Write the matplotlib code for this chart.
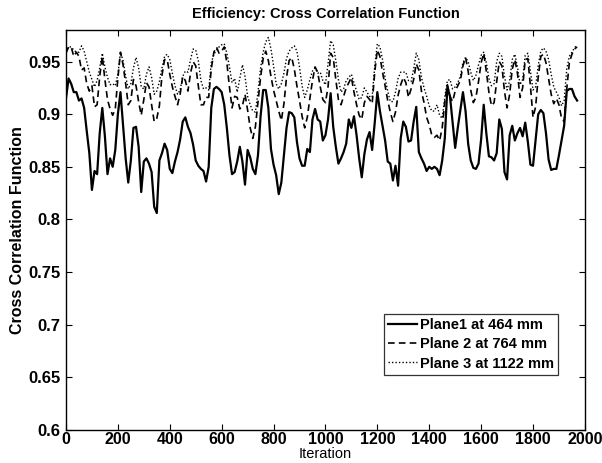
import numpy as np
import matplotlib
matplotlib.use("Agg")
import matplotlib.pyplot as plt

iterations = list(range(0, 1971, 10))

plane1 = [
    0.915, 0.934, 0.929, 0.921, 0.921, 0.913, 0.915, 0.906, 0.884, 0.863,
    0.828, 0.846, 0.843, 0.882, 0.906, 0.879, 0.843, 0.858, 0.850, 0.866,
    0.900, 0.921, 0.890, 0.858, 0.835, 0.856, 0.887, 0.888, 0.869, 0.826,
    0.855, 0.858, 0.853, 0.845, 0.812, 0.806, 0.856, 0.863, 0.872, 0.866,
    0.848, 0.844, 0.855, 0.864, 0.876, 0.893, 0.897, 0.888, 0.882, 0.871,
    0.856, 0.851, 0.848, 0.846, 0.836, 0.850, 0.906, 0.924, 0.926, 0.924,
    0.921, 0.909, 0.887, 0.861, 0.843, 0.845, 0.855, 0.869, 0.855, 0.833,
    0.866, 0.859, 0.848, 0.843, 0.861, 0.898, 0.923, 0.923, 0.906, 0.867,
    0.852, 0.842, 0.824, 0.835, 0.861, 0.887, 0.902, 0.901, 0.897, 0.874,
    0.858, 0.851, 0.851, 0.867, 0.864, 0.895, 0.905, 0.895, 0.893, 0.875,
    0.880, 0.895, 0.920, 0.888, 0.869, 0.853, 0.858, 0.864, 0.872, 0.895,
    0.887, 0.898, 0.880, 0.858, 0.840, 0.862, 0.876, 0.883, 0.866, 0.892,
    0.921, 0.903, 0.889, 0.875, 0.855, 0.853, 0.837, 0.851, 0.832, 0.877,
    0.893, 0.888, 0.874, 0.875, 0.893, 0.907, 0.864, 0.858, 0.853, 0.846,
    0.850, 0.848, 0.850, 0.848, 0.842, 0.856, 0.877, 0.926, 0.917, 0.892,
    0.868, 0.887, 0.904, 0.921, 0.903, 0.872, 0.856, 0.849, 0.848, 0.853,
    0.876, 0.909, 0.882, 0.860, 0.859, 0.856, 0.863, 0.895, 0.886, 0.845,
    0.838, 0.880, 0.889, 0.875, 0.882, 0.887, 0.879, 0.892, 0.874, 0.852,
    0.851, 0.875, 0.900, 0.904, 0.901, 0.882, 0.857, 0.847, 0.848, 0.848,
    0.861, 0.875, 0.889, 0.922, 0.924, 0.924, 0.917, 0.913,
]

plane2 = [
    0.958, 0.964, 0.964, 0.955, 0.959, 0.955, 0.942, 0.944, 0.929, 0.922,
    0.927, 0.907, 0.909, 0.936, 0.955, 0.933, 0.914, 0.905, 0.899, 0.905,
    0.934, 0.959, 0.947, 0.929, 0.909, 0.913, 0.933, 0.927, 0.912, 0.899,
    0.914, 0.930, 0.926, 0.909, 0.893, 0.896, 0.908, 0.937, 0.952, 0.952,
    0.938, 0.926, 0.917, 0.909, 0.919, 0.936, 0.932, 0.922, 0.939, 0.950,
    0.946, 0.927, 0.909, 0.909, 0.916, 0.916, 0.943, 0.959, 0.964, 0.958,
    0.960, 0.964, 0.949, 0.926, 0.906, 0.917, 0.916, 0.905, 0.908, 0.919,
    0.904, 0.887, 0.877, 0.888, 0.912, 0.935, 0.953, 0.960, 0.951, 0.936,
    0.923, 0.913, 0.903, 0.894, 0.910, 0.935, 0.951, 0.954, 0.943, 0.927,
    0.913, 0.898, 0.887, 0.897, 0.915, 0.932, 0.945, 0.940, 0.926, 0.914,
    0.911, 0.926, 0.958, 0.954, 0.933, 0.914, 0.909, 0.917, 0.925, 0.930,
    0.935, 0.921, 0.909, 0.899, 0.895, 0.911, 0.917, 0.914, 0.910, 0.940,
    0.961, 0.955, 0.940, 0.927, 0.913, 0.902, 0.893, 0.902, 0.918, 0.928,
    0.935, 0.930, 0.916, 0.924, 0.933, 0.948, 0.942, 0.922, 0.911, 0.897,
    0.890, 0.880, 0.878, 0.880, 0.875, 0.887, 0.912, 0.928, 0.917, 0.912,
    0.922, 0.927, 0.932, 0.946, 0.954, 0.941, 0.923, 0.911, 0.916, 0.931,
    0.949, 0.958, 0.941, 0.921, 0.908, 0.911, 0.931, 0.950, 0.946, 0.922,
    0.906, 0.919, 0.943, 0.952, 0.939, 0.916, 0.925, 0.952, 0.953, 0.927,
    0.897, 0.907, 0.935, 0.955, 0.957, 0.949, 0.934, 0.919, 0.910, 0.915,
    0.909, 0.896, 0.893, 0.924, 0.949, 0.957, 0.962, 0.964,
]

plane3 = [
    0.959, 0.964, 0.964, 0.961, 0.959, 0.959, 0.965, 0.960, 0.950, 0.940,
    0.933, 0.926, 0.932, 0.944, 0.958, 0.945, 0.935, 0.928, 0.929, 0.927,
    0.938, 0.959, 0.951, 0.936, 0.924, 0.929, 0.944, 0.954, 0.944, 0.926,
    0.924, 0.938, 0.945, 0.935, 0.919, 0.922, 0.931, 0.944, 0.955, 0.957,
    0.952, 0.939, 0.927, 0.919, 0.923, 0.936, 0.941, 0.940, 0.952, 0.962,
    0.961, 0.951, 0.932, 0.924, 0.925, 0.923, 0.949, 0.957, 0.961, 0.964,
    0.966, 0.967, 0.958, 0.945, 0.930, 0.934, 0.921, 0.934, 0.947, 0.936,
    0.917, 0.909, 0.903, 0.902, 0.921, 0.944, 0.959, 0.969, 0.973, 0.962,
    0.946, 0.929, 0.924, 0.929, 0.939, 0.953, 0.960, 0.963, 0.965, 0.960,
    0.945, 0.927, 0.916, 0.923, 0.933, 0.941, 0.944, 0.939, 0.940, 0.932,
    0.928, 0.948, 0.970, 0.966, 0.951, 0.933, 0.921, 0.924, 0.932, 0.935,
    0.938, 0.930, 0.922, 0.914, 0.916, 0.925, 0.921, 0.917, 0.916, 0.946,
    0.967, 0.964, 0.952, 0.934, 0.922, 0.912, 0.912, 0.921, 0.934, 0.940,
    0.940, 0.940, 0.932, 0.931, 0.943, 0.958, 0.952, 0.935, 0.925, 0.917,
    0.908, 0.903, 0.903, 0.909, 0.899, 0.896, 0.916, 0.932, 0.933, 0.924,
    0.926, 0.930, 0.936, 0.949, 0.954, 0.950, 0.940, 0.932, 0.937, 0.947,
    0.956, 0.959, 0.949, 0.934, 0.927, 0.929, 0.950, 0.958, 0.955, 0.936,
    0.923, 0.932, 0.952, 0.957, 0.945, 0.928, 0.933, 0.956, 0.958, 0.941,
    0.923, 0.926, 0.946, 0.960, 0.963, 0.960, 0.952, 0.938, 0.926, 0.921,
    0.916, 0.908, 0.913, 0.943, 0.955, 0.959, 0.963, 0.966,
]

labels = ["Plane1 at 464 mm", "Plane 2 at 764 mm", "Plane 3 at 1122 mm"]
x_ticks = list(range(0, 2001, 200))
y_ticks = [0.6, 0.65, 0.7, 0.75, 0.8, 0.85, 0.9, 0.95]
y_tick_labels = ["0.6", "0.65", "0.7", "0.75", "0.8", "0.85", "0.9", "0.95"]

plt.rcParams['font.family'] = ['Liberation Sans', 'DejaVu Sans']

fig = plt.figure(figsize=(6.02, 4.63), dpi=100)
ax = fig.add_axes([0.1096, 0.072, 0.862, 0.863])

ax.plot(iterations, plane1, color='black', linestyle='-', linewidth=1.6, label=labels[0])
ax.plot(iterations, plane2, color='black', linestyle=(0, (4, 2.5)), linewidth=1.2, label=labels[1])
ax.plot(iterations, plane3, color='black', linestyle=(0, (1, 1.5)), linewidth=1.0, label=labels[2])

ax.set_xlim(0, 2000)
ax.set_ylim(0.6, 0.98)
ax.set_xticks(x_ticks)
ax.set_xticklabels([str(t) for t in x_ticks])
ax.set_yticks(y_ticks)
ax.set_yticklabels(y_tick_labels)
ax.tick_params(direction='in', top=True, right=True, length=4, width=0.8)
ax.tick_params(axis='x', labelsize=11.5, pad=1.5)
ax.tick_params(axis='y', labelsize=12, pad=4)
for lab in ax.get_xticklabels() + ax.get_yticklabels():
    lab.set_fontweight('bold')
for sp in ax.spines.values():
    sp.set_linewidth(1.0)

ax.set_title("Efficiency: Cross Correlation Function", fontsize=10.5, fontweight='bold', pad=9)
ax.set_xlabel("Iteration", fontsize=10.5, labelpad=0.5)
ax.set_ylabel("Cross Correlation Function", fontsize=11.5, fontweight='bold', labelpad=2)

leg = ax.legend(loc='lower right', bbox_to_anchor=(0.948, 0.137),
                prop={'size': 10.5, 'weight': 'bold'},
                frameon=True, fancybox=False, edgecolor='black', handlelength=2.0,
                handletextpad=0.15, borderpad=0.3, labelspacing=0.35, borderaxespad=0)
leg.get_frame().set_linewidth(0.9)

fig.savefig("out.png", dpi=100)
